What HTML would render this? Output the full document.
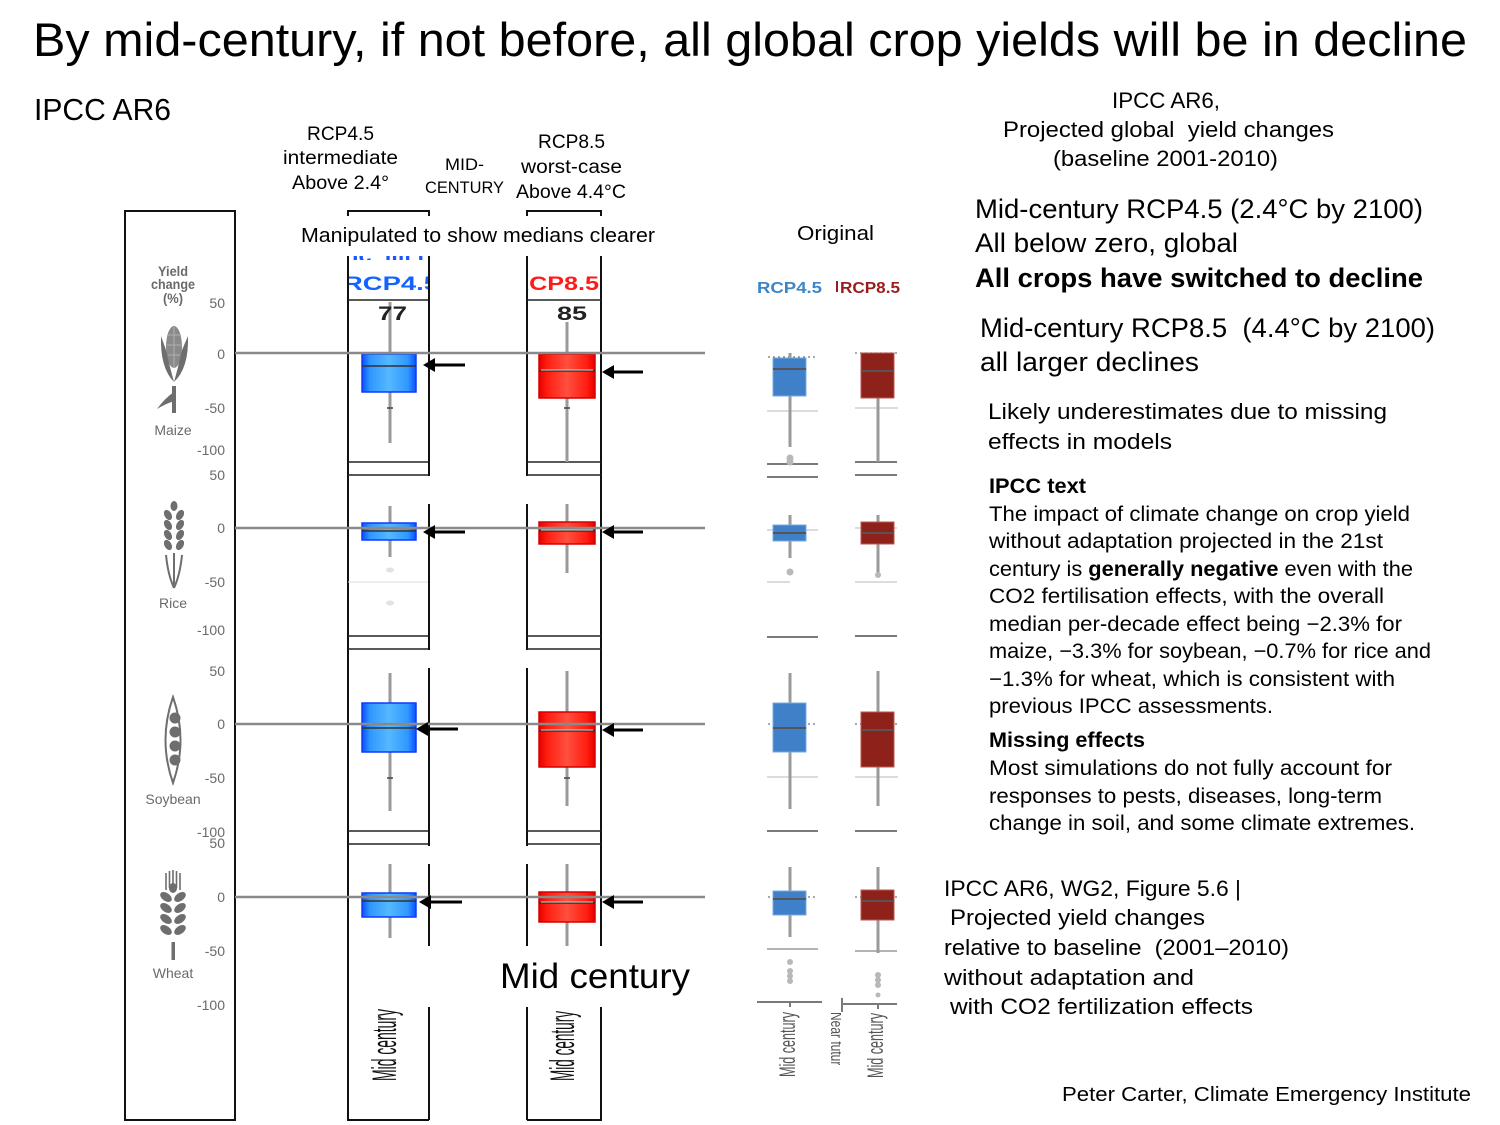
<!DOCTYPE html>
<html>
<head>
<meta charset="utf-8">
<style>
  html,body{margin:0;padding:0;background:#fff;}
  svg{display:block;}
  text{font-family:"Liberation Sans",sans-serif;white-space:pre;}
</style>
</head>
<body>
<svg width="1500" height="1125" viewBox="0 0 1500 1125" xmlns="http://www.w3.org/2000/svg">
  <defs>
    <linearGradient id="gb" x1="0" y1="0" x2="1" y2="0">
      <stop offset="0" stop-color="#0a50ff"/>
      <stop offset="0.15" stop-color="#2f98ff"/>
      <stop offset="0.5" stop-color="#55b8ff"/>
      <stop offset="0.85" stop-color="#2f98ff"/>
      <stop offset="1" stop-color="#0a50ff"/>
    </linearGradient>
    <linearGradient id="gr" x1="0" y1="0" x2="1" y2="0">
      <stop offset="0" stop-color="#e60000"/>
      <stop offset="0.15" stop-color="#ff1e10"/>
      <stop offset="0.5" stop-color="#ff5040"/>
      <stop offset="0.85" stop-color="#ff1e10"/>
      <stop offset="1" stop-color="#e60000"/>
    </linearGradient>
    <clipPath id="c1"><rect x="349" y="240" width="79" height="60"/></clipPath>
    <clipPath id="c2"><rect x="528" y="240" width="72" height="60"/></clipPath>
    <clipPath id="c3"><rect x="349" y="256" width="79" height="4"/></clipPath>
    <clipPath id="c4"><rect x="830" y="1005" width="11" height="60"/></clipPath>
  </defs>

  <!-- Title -->
  <text x="33" y="56" font-size="47" textLength="1434" lengthAdjust="spacingAndGlyphs" fill="#000">By mid-century, if not before, all global crop yields will be in decline</text>
  <text x="34" y="120" font-size="31" textLength="137" lengthAdjust="spacingAndGlyphs" fill="#000">IPCC AR6</text>

  <!-- Header labels -->
  <g fill="#000" font-size="19">
    <text x="307" y="140" textLength="67" lengthAdjust="spacingAndGlyphs">RCP4.5</text>
    <text x="283" y="164" textLength="115" lengthAdjust="spacingAndGlyphs">intermediate</text>
    <text x="292" y="189" textLength="97" lengthAdjust="spacingAndGlyphs">Above 2.4°</text>
    <text x="445" y="170" font-size="17" textLength="39" lengthAdjust="spacingAndGlyphs">MID-</text>
    <text x="425" y="193" font-size="17" textLength="79" lengthAdjust="spacingAndGlyphs">CENTURY</text>
    <text x="538" y="148" textLength="67" lengthAdjust="spacingAndGlyphs">RCP8.5</text>
    <text x="521" y="173" textLength="101" lengthAdjust="spacingAndGlyphs">worst-case</text>
    <text x="516" y="198" textLength="110" lengthAdjust="spacingAndGlyphs">Above 4.4°C</text>
    <text x="301" y="242" font-size="20" textLength="354" lengthAdjust="spacingAndGlyphs">Manipulated to show medians clearer</text>
    <text x="797" y="240" font-size="20" textLength="77" lengthAdjust="spacingAndGlyphs">Original</text>
  </g>

  <!-- Left panel frame -->
  <rect x="125" y="211" width="110" height="909" fill="none" stroke="#111" stroke-width="2"/>

  <!-- Left panel labels -->
  <g fill="#6a6a6a" font-weight="bold" font-size="14" text-anchor="middle">
    <text x="173" y="276" textLength="30" lengthAdjust="spacingAndGlyphs">Yield</text>
    <text x="173" y="289" textLength="44" lengthAdjust="spacingAndGlyphs">change</text>
    <text x="173" y="303" textLength="20" lengthAdjust="spacingAndGlyphs">(%)</text>
  </g>
  <g fill="#6a6a6a" font-size="14" text-anchor="end">
    <text x="225" y="308">50</text>
    <text x="225" y="359">0</text>
    <text x="225" y="413">-50</text>
    <text x="225" y="455">-100</text>
    <text x="225" y="480">50</text>
    <text x="225" y="533">0</text>
    <text x="225" y="587">-50</text>
    <text x="225" y="635">-100</text>
    <text x="225" y="676">50</text>
    <text x="225" y="729">0</text>
    <text x="225" y="783">-50</text>
    <text x="225" y="837">-100</text>
    <text x="225" y="848">50</text>
    <text x="225" y="902">0</text>
    <text x="225" y="956">-50</text>
    <text x="225" y="1010">-100</text>
  </g>
  <g fill="#6a6a6a" font-size="14" text-anchor="middle">
    <text x="173" y="435">Maize</text>
    <text x="173" y="608">Rice</text>
    <text x="173" y="804">Soybean</text>
    <text x="173" y="978">Wheat</text>
  </g>

  <!-- Crop icons -->
  <g fill="#6e6e6e" stroke="none">
    <ellipse cx="174" cy="347" rx="8" ry="21" fill="#8a8a8a"/>
    <path d="M174,327 V368 M168,335 H180 M167,345 H181 M168,355 H180" stroke="#b0b0b0" stroke-width="1"/>
    <path d="M161,336 Q160,368 174,382 Q169,364 166,350 Z"/>
    <path d="M188,336 Q189,368 174,382 Q179,364 182,350 Z"/>
    <rect x="172" y="386" width="4" height="27"/>
    <path d="M174,392 Q165,398 157,409 Q167,403 175,401 Z"/>
    <ellipse cx="174" cy="506" rx="3.5" ry="5"/>
    <g>
      <ellipse cx="168" cy="515" rx="3.5" ry="5.5" transform="rotate(-30 168 515)"/>
      <ellipse cx="180" cy="515" rx="3.5" ry="5.5" transform="rotate(30 180 515)"/>
      <ellipse cx="168" cy="525" rx="3.5" ry="5.5" transform="rotate(-30 168 525)"/>
      <ellipse cx="180" cy="525" rx="3.5" ry="5.5" transform="rotate(30 180 525)"/>
      <ellipse cx="168" cy="535" rx="3.5" ry="5.5" transform="rotate(-30 168 535)"/>
      <ellipse cx="180" cy="535" rx="3.5" ry="5.5" transform="rotate(30 180 535)"/>
      <ellipse cx="168" cy="545" rx="3.5" ry="5.5" transform="rotate(-30 168 545)"/>
      <ellipse cx="180" cy="545" rx="3.5" ry="5.5" transform="rotate(30 180 545)"/>
    </g>
    <path d="M166,555 Q168,575 174,588 M182,555 Q180,575 174,588 M174,553 V588" stroke="#6e6e6e" stroke-width="2" fill="none"/>
    <path d="M173,697 Q188,740 173,783 Q158,740 173,697 Z" fill="none" stroke="#6e6e6e" stroke-width="2"/>
    <circle cx="175" cy="718" r="5.5"/>
    <circle cx="175" cy="732" r="5.5"/>
    <circle cx="175" cy="746" r="5.5"/>
    <circle cx="175" cy="760" r="5.5"/>
    <path d="M166,873 V890 M169.5,871 V888 M173,870 V886 M176.5,871 V888 M180,873 V890" stroke="#6e6e6e" stroke-width="1.6" fill="none"/>
    <ellipse cx="173" cy="888" rx="4" ry="5"/>
    <ellipse cx="166" cy="897" rx="6.5" ry="4" transform="rotate(35 166 897)"/>
    <ellipse cx="180" cy="897" rx="6.5" ry="4" transform="rotate(-35 180 897)"/>
    <ellipse cx="166" cy="908" rx="6.5" ry="4" transform="rotate(35 166 908)"/>
    <ellipse cx="180" cy="908" rx="6.5" ry="4" transform="rotate(-35 180 908)"/>
    <ellipse cx="166" cy="919" rx="6.5" ry="4" transform="rotate(35 166 919)"/>
    <ellipse cx="180" cy="919" rx="6.5" ry="4" transform="rotate(-35 180 919)"/>
    <ellipse cx="166" cy="930" rx="6.5" ry="4" transform="rotate(35 166 930)"/>
    <ellipse cx="180" cy="930" rx="6.5" ry="4" transform="rotate(-35 180 930)"/>
    <rect x="171.5" y="942" width="3.5" height="18"/>
  </g>

  <!-- Manipulated columns frames -->
  <g stroke="#111" stroke-width="2" fill="none">
    <path d="M348,216 V211 H429 V216"/>
    <path d="M348,256 V1120 H429"/>
    <path d="M429,256 V476 M429,504 V650 M429,668 V846 M429,864 V946 M429,1007 V1120"/>
    <path d="M527,216 V211 H601 V216"/>
    <path d="M601,256 V946 M601,1007 V1120 H527"/>
    <path d="M527,256 V476 M527,504 V650 M527,668 V846 M527,864 V946 M527,1007 V1120"/>
  </g>
  <g stroke="#222" stroke-width="1.5" fill="none">
    <path d="M348,300 H428 M348,462 H428 M348,475 H428 M348,636 H428 M348,649 H428 M348,831 H428 M348,844 H428"/>
    <path d="M527,300 H601 M527,462 H601 M527,475 H601 M527,636 H601 M527,649 H601 M527,831 H601 M527,844 H601"/>
  </g>
  <path d="M348,582 H428" stroke="#ddd" stroke-width="1"/>

  <!-- column header texts -->
  <g clip-path="url(#c3)">
    <text x="352" y="262" font-size="18" font-weight="bold" fill="#1a55ff" textLength="72" lengthAdjust="spacingAndGlyphs">ıc  ıııı ı</text>
  </g>
  <g clip-path="url(#c1)">
    <text x="343" y="290" font-size="19" font-weight="bold" fill="#1463ff" textLength="96" lengthAdjust="spacingAndGlyphs">RCP4.5</text>
  </g>
  <g clip-path="url(#c2)">
    <text x="511" y="290" font-size="19" font-weight="bold" fill="#ff1a1a" textLength="88" lengthAdjust="spacingAndGlyphs">RCP8.5</text>
  </g>

  <!-- Manipulated whiskers -->
  <g stroke="#9a9a9a" stroke-width="3">
    <path d="M390,302 V354 M390,392 V443"/>
    <path d="M567,322 V354 M567,398 V462"/>
    <path d="M390,506 V523 M390,540 V557"/>
    <path d="M567,504 V522 M567,544 V573"/>
    <path d="M390,673 V703 M390,752 V811"/>
    <path d="M567,671 V712 M567,767 V806"/>
    <path d="M390,864 V893 M390,917 V938"/>
    <path d="M567,864 V892 M567,922 V946"/>
  </g>
  <g stroke="#444" stroke-width="1.5">
    <path d="M387,408 H393 M564,408 H570 M387,778 H393 M564,778 H570"/>
  </g>
  <g fill="#e2e2e2">
    <ellipse cx="390" cy="570" rx="4" ry="2.5"/>
    <ellipse cx="390" cy="603" rx="4" ry="2.5"/>
  </g>

  <!-- 77 / 85 -->
  <text x="378" y="320" font-size="19" font-weight="bold" fill="#222" textLength="29" lengthAdjust="spacingAndGlyphs">77</text>
  <text x="557" y="320" font-size="19" font-weight="bold" fill="#222" textLength="30" lengthAdjust="spacingAndGlyphs">85</text>

  <!-- Manipulated boxes -->
  <g stroke="#0a3cff" stroke-width="1.5" fill="url(#gb)">
    <rect x="362" y="354" width="54" height="38"/>
    <rect x="362" y="523" width="54" height="17"/>
    <rect x="362" y="703" width="54" height="49"/>
    <rect x="362" y="893" width="54" height="24"/>
  </g>
  <g stroke="#d40000" stroke-width="1.5" fill="url(#gr)">
    <rect x="539" y="354" width="56" height="44"/>
    <rect x="539" y="522" width="56" height="22"/>
    <rect x="539" y="712" width="56" height="55"/>
    <rect x="539" y="892" width="56" height="30"/>
  </g>
  <g stroke="#333" stroke-width="1.5">
    <path d="M362,366 H416 M362,531 H416 M362,728 H416 M362,901 H416"/>
    <path d="M539,371 H595 M539,531 H595 M539,731 H595 M539,903 H595"/>
  </g>
  <g stroke="#f1c8c0" stroke-width="1">
    <path d="M541,370 H593 M541,530 H593 M541,730 H593 M541,902 H593"/>
  </g>

  <!-- zero lines -->
  <g stroke="#8a8a8a" stroke-width="2.5">
    <path d="M235,353 H705 M235,528 H705 M235,724 H705 M235,897 H705"/>
  </g>

  <!-- arrows -->
  <g stroke="#000" stroke-width="3">
    <path d="M431,365 H465 M610,372 H643 M431,532 H465 M610,532 H643 M424,729 H458 M610,730 H643 M427,902 H462 M610,902 H643"/>
  </g>
  <g fill="#000">
    <path d="M423,365 L435,358 L435,372 Z"/>
    <path d="M602,372 L614,365 L614,379 Z"/>
    <path d="M423,532 L435,525 L435,539 Z"/>
    <path d="M602,532 L614,525 L614,539 Z"/>
    <path d="M416,729 L428,722 L428,736 Z"/>
    <path d="M602,730 L614,723 L614,737 Z"/>
    <path d="M419,902 L431,895 L431,909 Z"/>
    <path d="M602,902 L614,895 L614,909 Z"/>
  </g>

  <!-- Mid century big -->
  <text x="500" y="988" font-size="35" fill="#000" textLength="190" lengthAdjust="spacingAndGlyphs">Mid century</text>

  <!-- rotated Mid century in columns -->
  <text transform="translate(396,1081) rotate(-90)" font-size="34" fill="#111" textLength="72" lengthAdjust="spacingAndGlyphs">Mid century</text>
  <text transform="translate(574,1081) rotate(-90)" font-size="34" fill="#111" textLength="70" lengthAdjust="spacingAndGlyphs">Mid century</text>

  <!-- Original section -->
  <text x="757" y="293" font-size="16" font-weight="bold" fill="#3d85c6" textLength="65" lengthAdjust="spacingAndGlyphs">RCP4.5</text>
  <rect x="836" y="281" width="2" height="11" fill="#9b1c1c"/>
  <text x="840" y="293" font-size="16" font-weight="bold" fill="#9b1c1c" textLength="60" lengthAdjust="spacingAndGlyphs">RCP8.5</text>

  <g stroke="#d0d0d0" stroke-width="1.5">
    <path d="M767,411 H818 M855,408 H898 M767,530 H818 M855,528 H897 M855,582 H897 M767,582 H790 M767,777 H818 M855,777 H898"/>
  </g>
  <g stroke="#9a9a9a" stroke-width="1.5">
    <path d="M767,949 H818 M855,951 H897"/>
  </g>
  <g stroke="#7a7a7a" stroke-width="2">
    <path d="M767,464 H818 M767,477 H818 M855,462 H897 M855,475 H897 M767,637 H818 M855,636 H897 M767,831 H818 M855,831 H897"/>
    <path d="M757,1002 H822 M843,1004 H897 M790,1002 V1007 M878,1004 V1009 M842,998 V1012"/>
  </g>
  <g stroke="#777" stroke-width="1.2" stroke-dasharray="2,3">
    <path d="M768,357 H817 M855,353 H898 M768,724 H817 M855,724 H898 M768,897 H817 M855,897 H898"/>
  </g>
  <g stroke="#9a9a9a" stroke-width="3">
    <path d="M790,353 V358 M790,396 V447"/>
    <path d="M878,398 V462"/>
    <path d="M790,515 V525 M790,541 V558"/>
    <path d="M878,515 V522 M878,544 V575"/>
    <path d="M790,673 V703 M790,752 V809"/>
    <path d="M878,671 V712 M878,767 V806"/>
    <path d="M790,867 V891 M790,915 V937"/>
    <path d="M878,867 V890 M878,920 V953"/>
  </g>
  <g fill="#b8b8b8">
    <circle cx="790" cy="458" r="3.5"/>
    <circle cx="790" cy="462" r="3.5"/>
    <circle cx="790" cy="572" r="3.5"/>
    <circle cx="878" cy="575" r="3"/>
    <circle cx="790" cy="962" r="3"/>
    <circle cx="790" cy="971" r="3"/>
    <circle cx="790" cy="976" r="3"/>
    <circle cx="790" cy="981" r="3"/>
    <circle cx="878" cy="975" r="3"/>
    <circle cx="878" cy="980" r="3"/>
    <circle cx="878" cy="985" r="3"/>
    <circle cx="878" cy="995" r="2.5"/>
  </g>
  <g fill="#3f80c8" stroke="#7aaae0" stroke-width="1">
    <rect x="773" y="358" width="33" height="38"/>
    <rect x="773" y="525" width="33" height="16"/>
    <rect x="773" y="703" width="33" height="49"/>
    <rect x="773" y="891" width="33" height="24"/>
  </g>
  <g fill="#8e2119" stroke="#b85a50" stroke-width="1">
    <rect x="861" y="353" width="33" height="45"/>
    <rect x="861" y="522" width="33" height="22"/>
    <rect x="861" y="712" width="33" height="55"/>
    <rect x="861" y="890" width="33" height="30"/>
  </g>
  <g stroke="#555" stroke-width="2">
    <path d="M773,369 H806 M773,533 H806 M773,728 H806 M773,899 H806"/>
    <path d="M861,371 H894 M861,533 H894 M861,730 H894 M861,901 H894"/>
  </g>
  <text transform="translate(795,1077) rotate(-90)" font-size="22" fill="#555" textLength="65" lengthAdjust="spacingAndGlyphs">Mid century</text>
  <text transform="translate(883,1078) rotate(-90)" font-size="22" fill="#555" textLength="65" lengthAdjust="spacingAndGlyphs">Mid century</text>
  <g clip-path="url(#c4)">
    <text transform="translate(831,1012) rotate(90)" font-size="17" fill="#555" textLength="60" lengthAdjust="spacingAndGlyphs">Near future</text>
  </g>

  <!-- Right column text -->
  <g fill="#000">
    <text x="1112" y="108" font-size="22" textLength="108" lengthAdjust="spacingAndGlyphs">IPCC AR6,</text>
    <text x="1003" y="137" font-size="22" textLength="331" lengthAdjust="spacingAndGlyphs">Projected global  yield changes</text>
    <text x="1053" y="166" font-size="22" textLength="225" lengthAdjust="spacingAndGlyphs">(baseline 2001-2010)</text>

    <text x="975" y="218" font-size="27" textLength="448" lengthAdjust="spacingAndGlyphs">Mid-century RCP4.5 (2.4°C by 2100)</text>
    <text x="975" y="252" font-size="27" textLength="263" lengthAdjust="spacingAndGlyphs">All below zero, global</text>
    <text x="975" y="287" font-size="27" font-weight="bold" textLength="448" lengthAdjust="spacingAndGlyphs">All crops have switched to decline</text>
    <text x="980" y="337" font-size="27" textLength="455" lengthAdjust="spacingAndGlyphs">Mid-century RCP8.5  (4.4°C by 2100)</text>
    <text x="980" y="371" font-size="27" textLength="219" lengthAdjust="spacingAndGlyphs">all larger declines</text>

    <text x="988" y="419" font-size="22" textLength="399" lengthAdjust="spacingAndGlyphs">Likely underestimates due to missing</text>
    <text x="988" y="449" font-size="22" textLength="184" lengthAdjust="spacingAndGlyphs">effects in models</text>

    <text x="989" y="493" font-size="21" font-weight="bold" textLength="97" lengthAdjust="spacingAndGlyphs">IPCC text</text>
    <text x="989" y="521" font-size="21" textLength="421" lengthAdjust="spacingAndGlyphs">The impact of climate change on crop yield</text>
    <text x="989" y="548" font-size="21" textLength="394" lengthAdjust="spacingAndGlyphs">without adaptation projected in the 21st</text>
    <text x="989" y="576" font-size="21" textLength="424" lengthAdjust="spacingAndGlyphs">century is <tspan font-weight="bold">generally negative</tspan> even with the</text>
    <text x="989" y="603" font-size="21" textLength="395" lengthAdjust="spacingAndGlyphs">CO2 fertilisation effects, with the overall</text>
    <text x="989" y="631" font-size="21" textLength="413" lengthAdjust="spacingAndGlyphs">median per-decade effect being −2.3% for</text>
    <text x="989" y="658" font-size="21" textLength="442" lengthAdjust="spacingAndGlyphs">maize, −3.3% for soybean, −0.7% for rice and</text>
    <text x="989" y="686" font-size="21" textLength="406" lengthAdjust="spacingAndGlyphs">−1.3% for wheat, which is consistent with</text>
    <text x="989" y="713" font-size="21" textLength="284" lengthAdjust="spacingAndGlyphs">previous IPCC assessments.</text>
    <text x="989" y="747" font-size="21" font-weight="bold" textLength="156" lengthAdjust="spacingAndGlyphs">Missing effects</text>
    <text x="989" y="775" font-size="21" textLength="403" lengthAdjust="spacingAndGlyphs">Most simulations do not fully account for</text>
    <text x="989" y="803" font-size="21" textLength="393" lengthAdjust="spacingAndGlyphs">responses to pests, diseases, long-term</text>
    <text x="989" y="830" font-size="21" textLength="426" lengthAdjust="spacingAndGlyphs">change in soil, and some climate extremes.</text>

    <text x="944" y="896" font-size="22" textLength="297" lengthAdjust="spacingAndGlyphs">IPCC AR6, WG2, Figure 5.6 |</text>
    <text x="950" y="925" font-size="22" textLength="255" lengthAdjust="spacingAndGlyphs">Projected yield changes</text>
    <text x="944" y="955" font-size="22" textLength="345" lengthAdjust="spacingAndGlyphs">relative to baseline  (2001–2010)</text>
    <text x="944" y="985" font-size="22" textLength="250" lengthAdjust="spacingAndGlyphs">without adaptation and</text>
    <text x="950" y="1014" font-size="22" textLength="303" lengthAdjust="spacingAndGlyphs">with CO2 fertilization effects</text>

    <text x="1062" y="1101" font-size="20" textLength="409" lengthAdjust="spacingAndGlyphs">Peter Carter, Climate Emergency Institute</text>
  </g>
</svg>
</body>
</html>
